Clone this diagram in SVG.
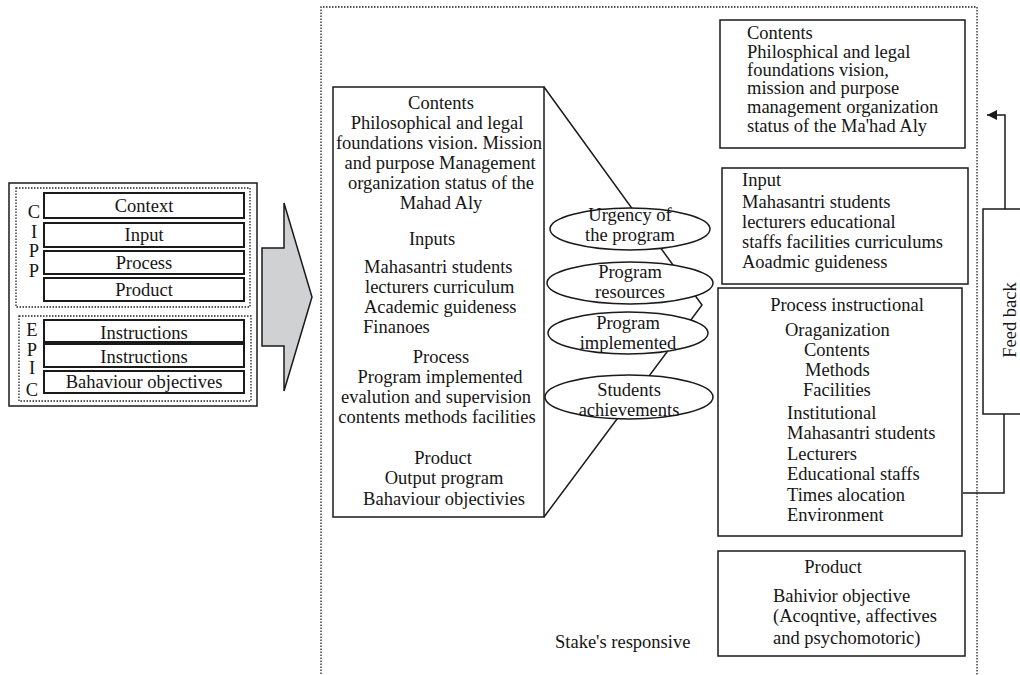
<svg xmlns="http://www.w3.org/2000/svg" width="1020" height="675" viewBox="0 0 1020 675">
<style>
text{font-family:"Liberation Serif","Times New Roman",serif;font-size:18.5px;fill:#151515}
.m{text-anchor:middle}
.box{fill:#fff;stroke:#1a1a1a;stroke-width:1.5}
.ibox{fill:#fff;stroke:#1a1a1a;stroke-width:2}
.dot{fill:none;stroke:#222;stroke-width:1.3;stroke-dasharray:1.5 1.5}
.ell{fill:#fff;stroke:#1a1a1a;stroke-width:1.5}
.ln{fill:none;stroke:#1a1a1a;stroke-width:1.5}
</style>
<defs>
<marker id="ah" viewBox="0 0 10 10" refX="10" refY="5" markerWidth="10" markerHeight="10" markerUnits="userSpaceOnUse" orient="auto">
<path d="M0,0 L10,5 L0,10 Z" fill="#1a1a1a"/>
</marker>
</defs>
<rect width="1020" height="675" fill="#fff"/>

<g id="frame">
<path class="dot" d="M321,680 V7 H977 V680"/>
</g>

<g id="models">
<rect class="box" x="9" y="183" width="248" height="223"/>
<rect class="dot" x="16" y="188" width="234" height="119"/>
<rect class="dot" x="19" y="316" width="232" height="85"/>
<text class="m" x="34" y="218">C</text>
<text class="m" x="34" y="238">I</text>
<text class="m" x="34" y="257">P</text>
<text class="m" x="34" y="277">P</text>
<text class="m" x="32" y="336">E</text>
<text class="m" x="32" y="356">P</text>
<text class="m" x="32" y="374">I</text>
<text class="m" x="32" y="396">C</text>
<rect class="ibox" x="44" y="193" width="200" height="25"/>
<text class="m" x="144" y="212">Context</text>
<rect class="ibox" x="44" y="223" width="200" height="24"/>
<text class="m" x="144" y="241">Input</text>
<rect class="ibox" x="44" y="251" width="200" height="23"/>
<text class="m" x="144" y="269">Process</text>
<rect class="ibox" x="44" y="278" width="200" height="23"/>
<text class="m" x="144" y="296">Product</text>
<rect class="ibox" x="44" y="320" width="200" height="22"/>
<text class="m" x="144" y="339">Instructions</text>
<rect class="ibox" x="44" y="344" width="200" height="23"/>
<text class="m" x="144" y="363">Instructions</text>
<rect class="ibox" x="44" y="371" width="200" height="22"/>
<text class="m" x="144" y="388">Bahaviour objectives</text>
</g>

<g id="bigarrow">
<polygon points="262,248 284,248 284,203 312,297 284,391 284,346 262,346" fill="#d0d1d3" stroke="#1a1a1a" stroke-width="1.5"/>
</g>

<g id="connectors">
<polyline class="ln" points="544,87 702,305 544,517"/>
<path class="ln" d="M1005,209 V115 H987" marker-end="url(#ah)"/>
<path class="ln" d="M1004,414 V493 H963"/>
</g>

<g id="stake-box">
<rect class="box" x="333" y="87" width="211" height="430"/>
<text class="m" x="441" y="109">Contents</text>
<text class="m" x="437" y="129">Philosophical and legal</text>
<text class="m" x="439" y="149">foundations vision. Mission</text>
<text class="m" x="440" y="169">and purpose Management</text>
<text class="m" x="441" y="189">organization status of the</text>
<text class="m" x="441" y="209">Mahad Aly</text>
<text class="m" x="432" y="245">Inputs</text>
<text x="364" y="273">Mahasantri students</text>
<text x="365" y="293">lecturers curriculum</text>
<text x="364" y="313">Academic guideness</text>
<text x="363" y="333">Finanoes</text>
<text class="m" x="441" y="363">Process</text>
<text class="m" x="440" y="383">Program implemented</text>
<text class="m" x="436" y="403">evalution and supervision</text>
<text class="m" x="437" y="423">contents methods facilities</text>
<text class="m" x="443" y="464">Product</text>
<text class="m" x="444" y="484">Output program</text>
<text class="m" x="444" y="505">Bahaviour objectivies</text>
</g>

<g id="urgency">
<ellipse class="ell" cx="630" cy="229" rx="80" ry="21"/>
<text class="m" x="630" y="221">Urgency of</text>
<text class="m" x="630" y="241">the program</text>
</g>
<g id="resources">
<ellipse class="ell" cx="630" cy="283" rx="83" ry="21"/>
<text class="m" x="630" y="278">Program</text>
<text class="m" x="630" y="298">resources</text>
</g>
<g id="implemented">
<ellipse class="ell" cx="628" cy="333" rx="80" ry="21"/>
<text class="m" x="628" y="329">Program</text>
<text class="m" x="628" y="349">implemented</text>
</g>
<g id="achievements">
<ellipse class="ell" cx="629" cy="397" rx="84" ry="22"/>
<text class="m" x="629" y="396">Students</text>
<text class="m" x="629" y="416">achievements</text>
</g>

<g id="contents-box">
<rect class="box" x="720" y="20" width="245" height="128"/>
<text x="747" y="39">Contents</text>
<text x="747" y="58">Philosphical and legal</text>
<text x="747" y="76">foundations vision,</text>
<text x="747" y="94">mission and purpose</text>
<text x="747" y="113">management organization</text>
<text x="747" y="132">status of the Ma'had Aly</text>
</g>

<g id="input-box">
<rect class="box" x="722" y="168" width="246" height="116"/>
<text x="742" y="186">Input</text>
<text x="742" y="208">Mahasantri students</text>
<text x="742" y="228">lecturers educational</text>
<text x="742" y="248">staffs facilities curriculums</text>
<text x="742" y="268">Aoadmic guideness</text>
</g>

<g id="process-box">
<rect class="box" x="718" y="288" width="244" height="248"/>
<text class="m" x="847" y="311">Process instructional</text>
<text x="785" y="336">Oraganization</text>
<text x="804" y="356">Contents</text>
<text x="805" y="376">Methods</text>
<text x="803" y="396">Facilities</text>
<text x="787" y="419">Institutional</text>
<text x="787" y="439">Mahasantri students</text>
<text x="787" y="460">Lecturers</text>
<text x="787" y="480">Educational staffs</text>
<text x="787" y="501">Times alocation</text>
<text x="787" y="521">Environment</text>
</g>

<g id="product-box">
<rect class="box" x="718" y="551" width="247" height="105"/>
<text class="m" x="833" y="573">Product</text>
<text x="773" y="602">Bahivior objective</text>
<text x="773" y="622">(Acoqntive, affectives</text>
<text x="773" y="644">and psychomotoric)</text>
</g>

<g id="feedback">
<rect class="box" x="983" y="209" width="60" height="205"/>
<text class="m" transform="translate(1016,320) rotate(-90)">Feed back</text>
</g>

<g id="label">
<text x="555" y="648">Stake's responsive</text>
</g>
</svg>
